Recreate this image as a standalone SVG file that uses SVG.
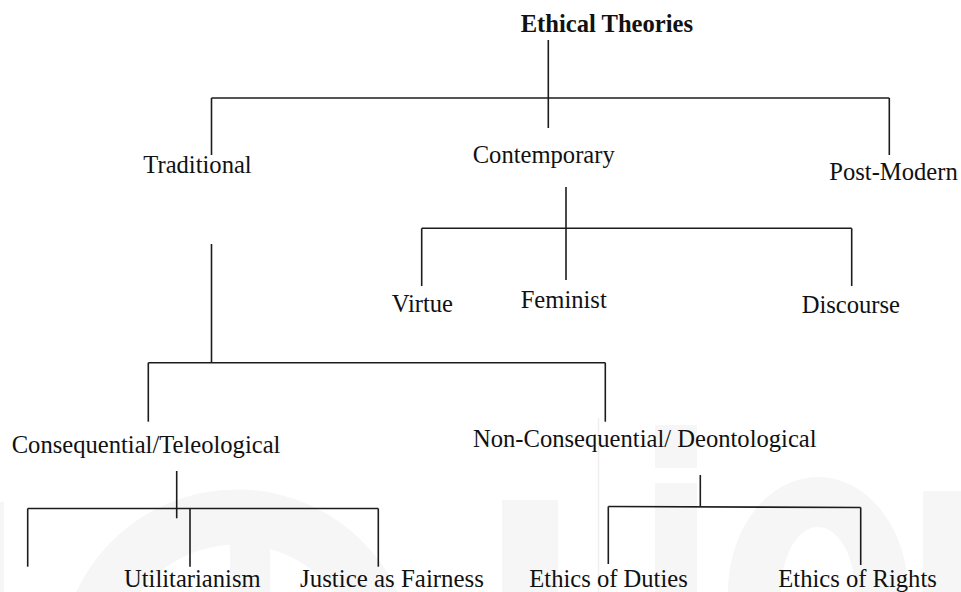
<svg xmlns="http://www.w3.org/2000/svg" width="961" height="592" viewBox="0 0 961 592">
<style>
.t{font-family:"Liberation Serif","Times New Roman",serif;font-size:24.6px;fill:#111}
.b{font-weight:bold}
.c line{stroke:#1c1c1c;stroke-width:1.6;fill:none}
.w{fill:#f6f6f6}
</style>
<rect width="961" height="592" fill="#fff"/>
<g id="watermark">
<circle cx="237" cy="667" r="150" fill="none" stroke="#f6f6f6" stroke-width="55"/>
<rect class="w" x="230" y="503" width="40" height="89"/>
<rect class="w" x="0" y="502" width="4" height="90"/>
<rect class="w" x="502" y="500" width="56" height="92"/>
<line x1="598.5" y1="418" x2="598.5" y2="592" stroke="#efefef" stroke-width="1.5"/>
<rect class="w" x="655" y="425" width="42" height="43"/>
<rect class="w" x="655" y="483" width="42" height="109"/>
<path class="w" fill-rule="evenodd" d="M728 592 A90 115 0 0 1 908 592 Z M781 592 A37 65 0 0 1 855 592 Z"/>
<rect class="w" x="923" y="491" width="38" height="101"/>
</g>
<g id="connectors" class="c">
<line x1="548.3" y1="40" x2="548.3" y2="128"/>
<line x1="211.5" y1="98" x2="889.3" y2="98"/>
<line x1="211.5" y1="98" x2="211.5" y2="155"/>
<line x1="889.3" y1="98" x2="889.3" y2="155"/>
<line x1="566" y1="187" x2="566" y2="280"/>
<line x1="421.7" y1="228.3" x2="851.7" y2="228.3"/>
<line x1="421.7" y1="228.3" x2="421.7" y2="286"/>
<line x1="851.7" y1="228.3" x2="851.7" y2="286"/>
<line x1="211.5" y1="244" x2="211.5" y2="362.7"/>
<line x1="148.3" y1="362.7" x2="605.3" y2="362.7"/>
<line x1="148.3" y1="362.7" x2="148.3" y2="421.7"/>
<line x1="605.3" y1="362.7" x2="605.3" y2="421.7"/>
<line x1="176.7" y1="471" x2="176.7" y2="518.3"/>
<line x1="27.7" y1="508.5" x2="378.3" y2="508.5"/>
<line x1="27.7" y1="508.5" x2="27.7" y2="566.7"/>
<line x1="190" y1="508.5" x2="190" y2="566.7"/>
<line x1="378.3" y1="508.5" x2="378.3" y2="566.7"/>
<line x1="700.3" y1="475" x2="700.3" y2="506.5"/>
<line x1="608.3" y1="506.5" x2="860.7" y2="507.5"/>
<line x1="608.3" y1="506.5" x2="608.3" y2="564"/>
<line x1="860.7" y1="507.5" x2="860.7" y2="565"/>
</g>
<g id="n-root"><text class="t b" x="520.7" y="32.3">Ethical Theories</text></g>
<g id="n-traditional"><text class="t" x="143.3" y="173.3">Traditional</text></g>
<g id="n-contemporary"><text class="t" x="472.7" y="163.3">Contemporary</text></g>
<g id="n-postmodern"><text class="t" x="829.3" y="180">Post-Modern</text></g>
<g id="n-virtue"><text class="t" x="391.7" y="312.3">Virtue</text></g>
<g id="n-feminist"><text class="t" x="520.7" y="308.3">Feminist</text></g>
<g id="n-discourse"><text class="t" x="801.7" y="313.3">Discourse</text></g>
<g id="n-conseq"><text class="t" x="11.7" y="453.3">Consequential/Teleological</text></g>
<g id="n-nonconseq"><text class="t" x="473" y="446.7">Non-Consequential/ Deontological</text></g>
<g id="n-util"><text class="t" x="124" y="586.5">Utilitarianism</text></g>
<g id="n-justice"><text class="t" x="300" y="586.5" textLength="184" lengthAdjust="spacingAndGlyphs">Justice as Fairness</text></g>
<g id="n-duties"><text class="t" x="529.3" y="586.5">Ethics of Duties</text></g>
<g id="n-rights"><text class="t" x="778.3" y="586.5">Ethics of Rights</text></g>
</svg>
